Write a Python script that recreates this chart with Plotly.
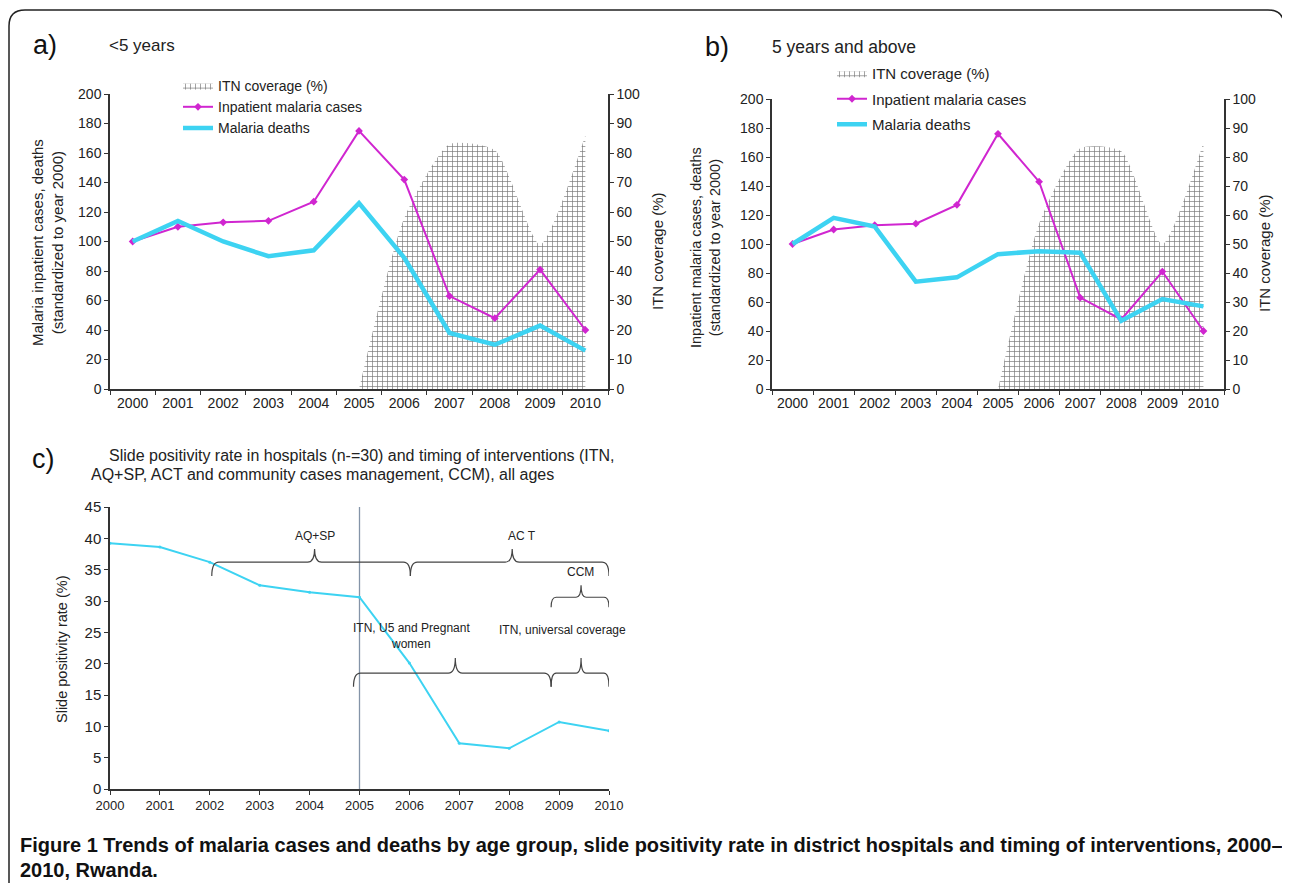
import plotly.graph_objects as go

# ---------------- data ----------------
years = ['2000', '2001', '2002', '2003', '2004', '2005', '2006', '2007', '2008', '2009', '2010']
years_num = [2000, 2001, 2002, 2003, 2004, 2005, 2006, 2007, 2008, 2009, 2010]
itn_years = ['2005', '2006', '2007', '2008', '2009', '2010']

a_cases = [100, 110, 113, 114, 127, 175, 142, 63, 48, 81, 40]
a_deaths = [100, 114, 100, 90, 94, 126, 89, 38, 30, 43, 26]
a_itn = [0, 58, 83, 81, 49, 86]

b_cases = [100, 110, 113, 114, 127, 176, 143, 63, 48, 81, 40]
b_deaths = [100, 118, 112, 74, 77, 93, 95, 94, 47, 62, 57]
b_itn = [0, 57, 83, 82, 50, 85]

c_spr = [39.2, 38.6, 36.2, 32.5, 31.4, 30.6, 20.1, 7.3, 6.5, 10.7, 9.3]

left_ticks = [0, 20, 40, 60, 80, 100, 120, 140, 160, 180, 200]
right_ticks = [0, 10, 20, 30, 40, 50, 60, 70, 80, 90, 100]
c_ticks = [0, 5, 10, 15, 20, 25, 30, 35, 40, 45]

# ---------------- helpers ----------------
# the page body has an 8px margin, so the figure starts at (8, 8) on screen
OFF = 8
W, H = 1290 - OFF, 883 - OFF
def fx(p):
    return (p - OFF) / W
def fy(p):
    return 1 - (p - OFF) / H

MAG = '#D026D0'
CYAN = '#3DD3F2'
FONT = 'Liberation Sans, Arial, sans-serif'
AX = '#333333'

fig = go.Figure()

def add_panel(xa, ya_itn, ya_cases, cases, deaths, itn, legend, groups):
    fig.add_trace(go.Scatter(
        x=itn_years, y=itn, xaxis=xa, yaxis=ya_itn, name='ITN coverage (%)',
        mode='lines', line=dict(width=0, color='rgba(0,0,0,0)', shape='spline', smoothing=0.6),
        fill='tozeroy', fillcolor='rgba(0,0,0,0)',
        fillpattern=dict(shape='+', fgcolor='#767676', bgcolor='white', size=5, solidity=0.25),
        legend=legend, legendgroup=groups[0], hoverinfo='skip'))
    fig.add_trace(go.Scatter(
        x=years, y=cases, xaxis=xa, yaxis=ya_cases, name='Inpatient malaria cases',
        mode='lines+markers', line=dict(width=2, color=MAG),
        marker=dict(symbol='diamond', size=6, color=MAG),
        legend=legend, legendgroup=groups[1]))
    fig.add_trace(go.Scatter(
        x=years, y=deaths, xaxis=xa, yaxis=ya_cases, name='Malaria deaths',
        mode='lines', line=dict(width=4.5, color=CYAN),
        legend=legend, legendgroup=groups[2]))

add_panel('x', 'y', 'y2', a_cases, a_deaths, a_itn, 'legend', ['a1', 'a1', 'a1'])
add_panel('x2', 'y3', 'y4', b_cases, b_deaths, b_itn, 'legend2', ['b1', 'b2', 'b3'])

fig.add_trace(go.Scatter(
    x=years_num, y=c_spr, xaxis='x3', yaxis='y5', mode='lines+markers',
    line=dict(width=2, color=CYAN), marker=dict(size=3, color=CYAN), showlegend=False))

tickfont = dict(family=FONT, size=14, color='#222')
cat_x = dict(type='category', categoryorder='array', categoryarray=years,
             tickson='boundaries', ticks='outside', ticklen=4,
             tickcolor=AX, showline=True, linecolor=AX, linewidth=1.5,
             showgrid=False, zeroline=False, range=[-0.5, 10.5], tickfont=tickfont,
             tickangle=0, automargin=False)
yax = dict(ticks='outside', ticklen=4, tickcolor=AX, showline=True, linecolor=AX,
           linewidth=1.5, showgrid=False, zeroline=False, tickfont=tickfont,
           automargin=False)

a_dom_x = [fx(110), fx(608)]
a_dom_y = [fy(389), fy(94)]
b_dom_x = [fx(772), fx(1224)]
b_dom_y = [fy(389), fy(99)]
c_dom_x = [fx(110), fx(609)]
c_dom_y = [fy(789), fy(507)]

fig.update_layout(
    template='none',
    font=dict(family=FONT, color='#222'),
    width=W, height=H, margin=dict(l=0, r=0, t=0, b=0, autoexpand=False),
    paper_bgcolor='white', plot_bgcolor='rgba(0,0,0,0)',
    xaxis=dict(cat_x, domain=a_dom_x, anchor='y'),
    yaxis=dict(yax, domain=a_dom_y, anchor='x', side='right', range=[0, 100],
               tickvals=right_ticks),
    yaxis2=dict(yax, domain=a_dom_y, anchor='x', overlaying='y', side='left',
                range=[0, 200], tickvals=left_ticks),
    xaxis2=dict(cat_x, domain=b_dom_x, anchor='y3'),
    yaxis3=dict(yax, domain=b_dom_y, anchor='x2', side='right', range=[0, 100],
                tickvals=right_ticks),
    yaxis4=dict(yax, domain=b_dom_y, anchor='x2', overlaying='y3', side='left',
                range=[0, 200], tickvals=left_ticks),
    xaxis3=dict(domain=c_dom_x, anchor='y5', range=[2000, 2010], tickvals=years_num,
                ticktext=years, ticks='outside', ticklen=4, tickcolor=AX, showline=True,
                linecolor=AX, linewidth=1.5, showgrid=False, zeroline=False,
                tickangle=0, automargin=False,
                tickfont=dict(family=FONT, size=13, color='#222')),
    yaxis5=dict(yax, domain=c_dom_y, anchor='x3', range=[0, 45], tickvals=c_ticks,
                tickfont=dict(family=FONT, size=15, color='#222')),
    legend=dict(x=fx(178), y=fy(70), xanchor='left', yanchor='top',
                bgcolor='rgba(0,0,0,0)', font=dict(family=FONT, size=14, color='#222'),
                itemwidth=30, traceorder='normal', tracegroupgap=0),
    legend2=dict(x=fx(832), y=fy(57), xanchor='left', yanchor='top',
                 bgcolor='rgba(0,0,0,0)', font=dict(family=FONT, size=15, color='#222'),
                 itemwidth=30, traceorder='grouped', tracegroupgap=3),
    showlegend=True,
)

annotations = []
def ann(text, x, y, size=15, angle=0, xanchor='center', color='#222', **kw):
    annotations.append(dict(text=text, x=fx(x), y=fy(y), xref='paper', yref='paper',
                            showarrow=False, xanchor=xanchor, yanchor='middle',
                            textangle=angle, font=dict(family=FONT, size=size, color=color), **kw))

ann('a)', 31, 45, size=27, xanchor='left', color='#111')
ann('&lt;5 years', 107, 46, size=17, xanchor='left')
ann('b)', 703, 47, size=27, xanchor='left', color='#111')
ann('5 years and above', 770, 47, size=17.5, xanchor='left')
ann('c)', 30, 459, size=27, xanchor='left', color='#111')
ann('Slide positivity rate in hospitals (n-=30) and timing of interventions (ITN,', 107, 455,
    size=16, xanchor='left')
ann('AQ+SP, ACT and community cases management, CCM), all ages', 89, 474,
    size=16, xanchor='left')

ann('Malaria inpatient cases, deaths<br>(standardized to year 2000)', 47, 243, size=15, angle=-90)
ann('ITN coverage (%)', 658, 251, size=15, angle=-90)
ann('Inpatient malaria cases, deaths<br>(standardized to year 2000)', 706, 248, size=14.5, angle=-90)
ann('ITN coverage (%)', 1264, 253, size=15, angle=-90)
ann('Slide positivity rate (%)', 62, 650, size=14.5, angle=-90)

# c) intervention labels (data coordinates)
def cann(text, x, y, size=12):
    annotations.append(dict(text=text, x=x, y=y, xref='x3', yref='y5', showarrow=False,
                            xanchor='center', yanchor='middle',
                            font=dict(family=FONT, size=size, color='#222')))
cann('AQ+SP', 2004.1, 40.4)
cann('AC T', 2008.25, 40.4)
cann('CCM', 2009.42, 34.6)
cann('ITN, U5 and Pregnant<br>women', 2006.05, 24.4)
cann('ITN, universal coverage', 2009.06, 25.4)

ann('<b>Figure 1 Trends of malaria cases and deaths by age group, slide positivity rate in district hospitals and timing of interventions, 2000–</b>',
    18, 845, size=20, xanchor='left', color='#111')
ann('<b>2010, Rwanda.</b>', 18, 870, size=20, xanchor='left', color='#111')

fig.update_layout(annotations=annotations)

# ---------------- shapes ----------------
shapes = []
def brace(x0, x1, xt, yb, yh, yt, d=0.14):
    p = (f'M {x0},{yb} Q {x0},{yh} {x0 + d},{yh} L {xt - d},{yh} '
         f'Q {xt},{yh} {xt},{yt} Q {xt},{yh} {xt + d},{yh} L {x1 - d},{yh} '
         f'Q {x1},{yh} {x1},{yb}')
    shapes.append(dict(type='path', path=p, xref='x3', yref='y5',
                       line=dict(color='#444', width=1.2)))

brace(2002.04, 2006.02, 2004.1, 34.0, 36.2, 38.3)
brace(2006.02, 2010.0, 2008.06, 34.0, 36.2, 38.3)
brace(2008.84, 2010.0, 2009.44, 29.0, 30.6, 32.5, d=0.1)
brace(2004.88, 2008.84, 2006.92, 16.3, 18.5, 20.9)
brace(2008.84, 2010.0, 2009.44, 16.3, 18.5, 20.9, d=0.1)

shapes.append(dict(type='line', x0=2005, x1=2005, y0=0, y1=45, xref='x3', yref='y5',
                   line=dict(color='#8494a8', width=1.3), layer='below'))

# rounded outer frame
l, t, r, b, rad = 9, 10, 1284, 900, 16
fr = (f'M {fx(l)},{fy(t + rad)} Q {fx(l)},{fy(t)} {fx(l + rad)},{fy(t)} '
      f'L {fx(r - rad)},{fy(t)} Q {fx(r)},{fy(t)} {fx(r)},{fy(t + rad)} '
      f'L {fx(r)},{fy(b)} L {fx(l)},{fy(b)} Z')
shapes.append(dict(type='path', path=fr, xref='paper', yref='paper',
                   line=dict(color='#222', width=1.5), layer='below'))

fig.update_layout(shapes=shapes)

fig.write_html('out.html')
